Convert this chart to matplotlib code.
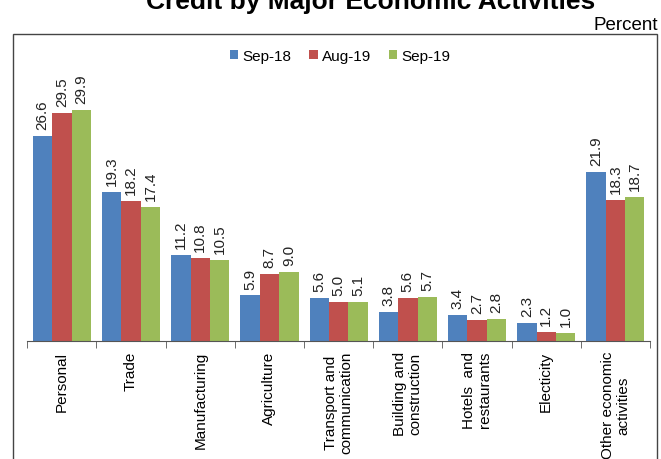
import numpy as np
import matplotlib
matplotlib.use("Agg")
from matplotlib import pyplot as plt
from matplotlib.patches import Rectangle

plt.rcParams['font.family'] = ['Liberation Sans', 'DejaVu Sans']

categories = ["Personal", "Trade", "Manufacturing", "Agriculture",
              "Transport and\ncommunication", "Building and\nconstruction",
              "Hotels  and\nrestaurants", "Electicity", "Other economic\nactivities"]
series_names = ["Sep-18", "Aug-19", "Sep-19"]
sep18 = [26.6, 19.3, 11.2, 5.9, 5.6, 3.8, 3.4, 2.3, 21.9]
aug19 = [29.5, 18.2, 10.8, 8.7, 5.0, 5.6, 2.7, 1.2, 18.3]
sep19 = [29.9, 17.4, 10.5, 9.0, 5.1, 5.7, 2.8, 1.0, 18.7]
colors = ["#4F81BD", "#C0504D", "#9BBB59"]

W, H = 661, 460
fig = plt.figure(figsize=(W/100, H/100), dpi=100)
ax = fig.add_axes([27.3/W, 1-342/H, (650-27.3)/W, (342-35)/H])

x = np.arange(len(categories))
bw = 0.28
for i, (vals, name) in enumerate(zip([sep18, aug19, sep19], series_names)):
    pos = x + (i-1)*bw
    ax.bar(pos, vals, bw, color=colors[i], label=name)
    for p, v in zip(pos, vals):
        ax.annotate("%.1f" % v, (p, v), xytext=(0, 5), textcoords='offset points',
                    rotation=90, ha='center', va='bottom', fontsize=11, color='#222222')

ax.set_xlim(-0.5, len(categories)-0.5)
ax.set_ylim(0, 39.77)
for s in ['top', 'left', 'right']:
    ax.spines[s].set_visible(False)
ax.spines['bottom'].set_color('#555555')
ax.set_yticks([])
ax.set_xticks(x)
ax.set_xticklabels(categories, rotation=90, fontsize=11, va='top', ha='center',
                   linespacing=1.15)
ax.tick_params(axis='x', which='major', length=0, pad=7)
ax.set_xticks(np.arange(-0.5, len(categories)), minor=True)
ax.tick_params(axis='x', which='minor', length=5, color='#555555')

ax.legend(loc='center', bbox_to_anchor=(340/W, 1-57/H), bbox_transform=fig.transFigure,
          ncol=3, frameon=False, fontsize=11, handlelength=0.55, handleheight=0.55,
          handletextpad=0.25, columnspacing=1.2)

fig.patches.append(Rectangle((12.7/W, -0.1), (657-12.7)/W, 1.1-35/H,
                             transform=fig.transFigure, fill=False,
                             edgecolor='#444444', lw=1))

fig.text(371/W, 1-9.5/H, "Credit by Major Economic Activities", ha='center',
         va='baseline', fontsize=19, fontweight='bold')
fig.text(658/W, 1-29.5/H, "Percent", ha='right', va='baseline', fontsize=13.5)

fig.savefig("out.png", dpi=100)
